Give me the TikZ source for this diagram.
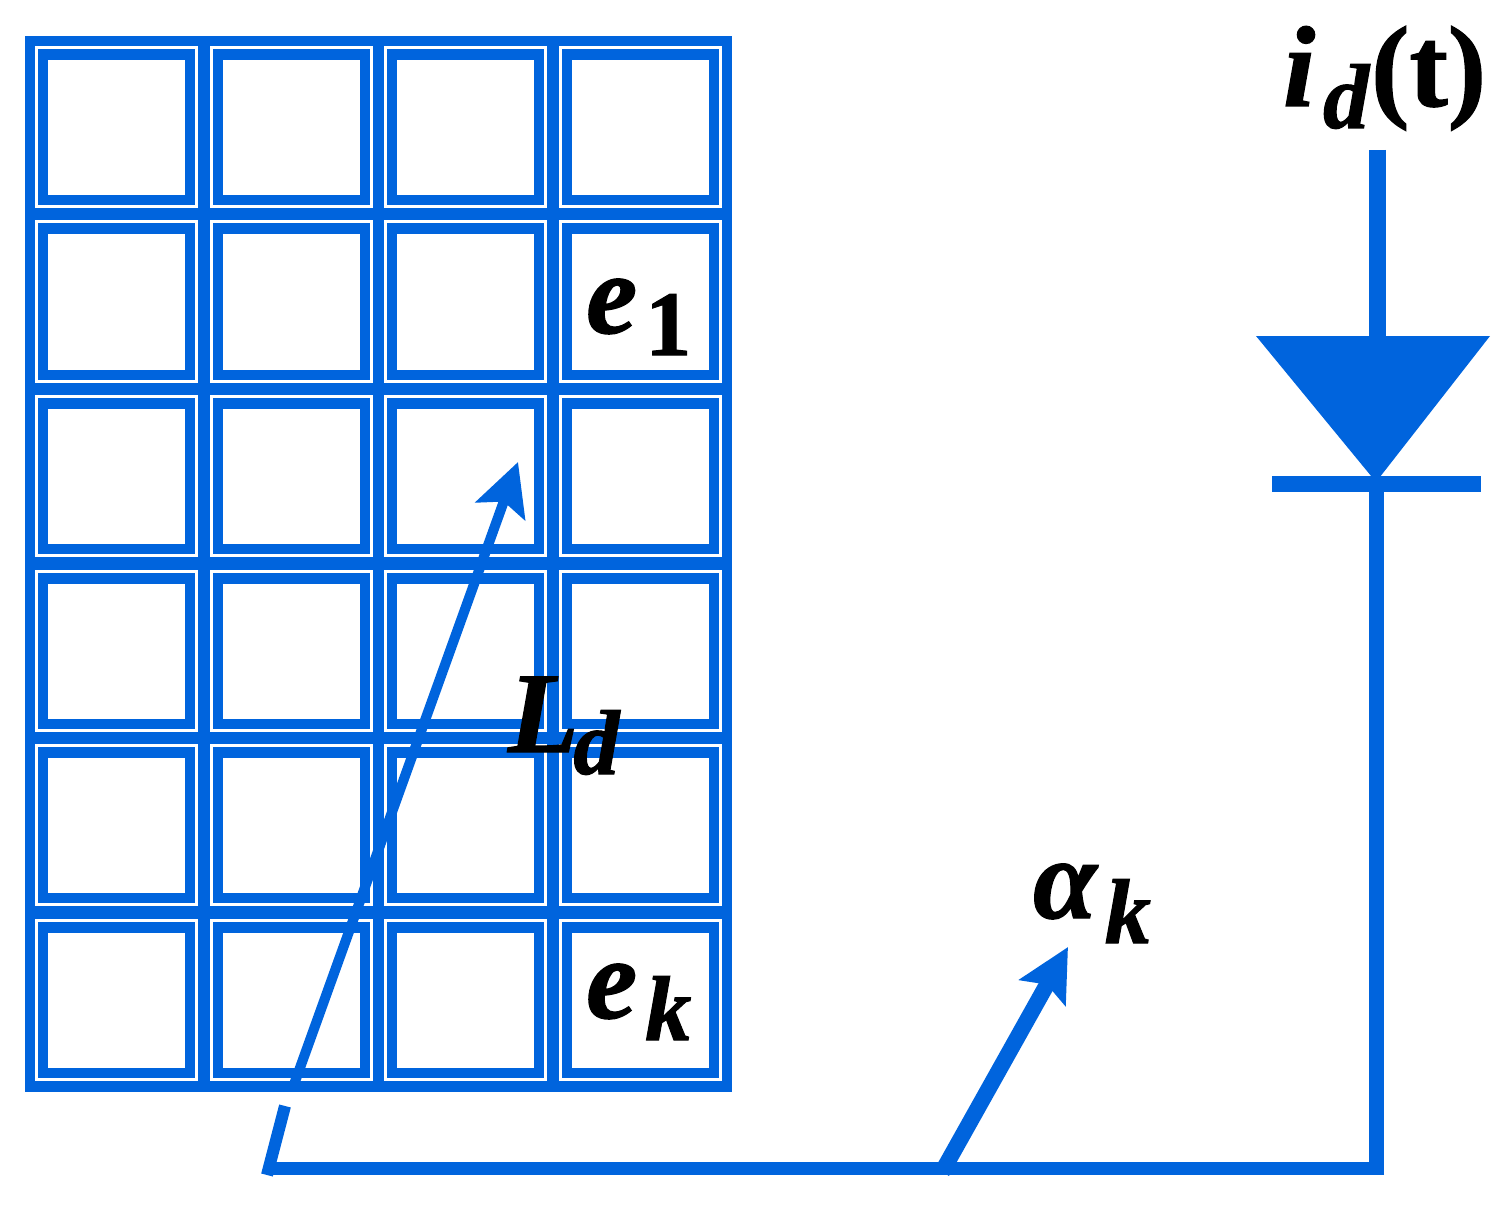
\documentclass[tikz,border=0pt]{standalone}
\usepackage{fontspec}
\newfontfamily\lblfam[FakeBold=1.2]{Liberation Serif}
\usetikzlibrary{arrows.meta}
\definecolor{gridblue}{RGB}{0,100,221}
\tikzset{
  x=1pt,y=-1pt,
  wire/.style={draw=gridblue,line cap=butt,line join=miter},
  lbl/.style={inner sep=0pt,anchor=base west,text=black,font=\lblfam\bfseries\itshape\fontsize{115}{120}\selectfont},
}
\newcommand{\lowsub}[2][-22pt]{\kern8pt\raisebox{#1}{\fontsize{92}{100}\selectfont #2}}
\begin{document}
\begin{tikzpicture}
\useasboundingbox (0,0) rectangle (1502,1209);
\fill[white] (0,0) rectangle (1502,1209);
% grid
\fill[gridblue] (25,36) rectangle (732,1092);
\foreach \c in {0,1,2,3}{
  \foreach \r in {0,1,2,3,4,5}{
    \pgfmathsetmacro{\xo}{174.5*\c}
    \pgfmathsetmacro{\yo}{174.5*\r}
    \begin{scope}[shift={(\xo,\yo)}]
      \fill[white] (35,46) rectangle (198,208);
      \fill[gridblue] (38,49) rectangle (195,205);
      \fill[white] (48,60) rectangle (185,195);
    \end{scope}
  }
}
% coordinates
\coordinate (top) at (1377,150);
\coordinate (triL) at (1256,336);
\coordinate (triR) at (1490,336);
\coordinate (triT) at (1376,482);
\coordinate (barL) at (1272,484);
\coordinate (barR) at (1481,484);
\coordinate (corner) at (1376.5,1168);
\coordinate (mid) at (942,1172);
\coordinate (left) at (267,1168);
\coordinate (stub) at (285,1106);
\coordinate (stubend) at (267,1175);
\coordinate (lstart) at (292,1090);
\coordinate (ltip) at (518,462);
\coordinate (atip) at (1068,947);
% diode and wires
\draw[wire,line width=17pt] (top) -- (1377,338);
\fill[gridblue] (triL) -- (triR) -- (triT) -- cycle;
\draw[wire,line width=16pt] (barL) -- (barR);
\draw[wire,line width=15pt] (1376.5,484) -- (1376.5,1174);
\draw[wire,line width=13pt] (1384,1168) -- (left);
\draw[wire,line width=12pt] (stubend) -- (stub);
\draw[wire,line width=10pt,-{Stealth[length=52pt,width=52pt,inset=10pt]}] (lstart) -- (ltip);
\draw[wire,line width=16pt,-{Stealth[length=52pt,width=52pt,inset=9pt]}] (mid) -- (atip);
% labels
\path (586,333) node[lbl] (labelone) {e\lowsub{\upshape 1}};
\path (586,1018) node[lbl] (labelk) {e\lowsub{k}};
\path (508,752) node[lbl] (labelL) {L\kern-13pt\lowsub{d}};
\path (1033,918) node[lbl] (labelalpha) {α\lowsub[-25pt]{k}};
\path (1283,106) node[lbl] (labeli) {i\lowsub{d}\upshape\kern2pt(t)};
\end{tikzpicture}
\end{document}
